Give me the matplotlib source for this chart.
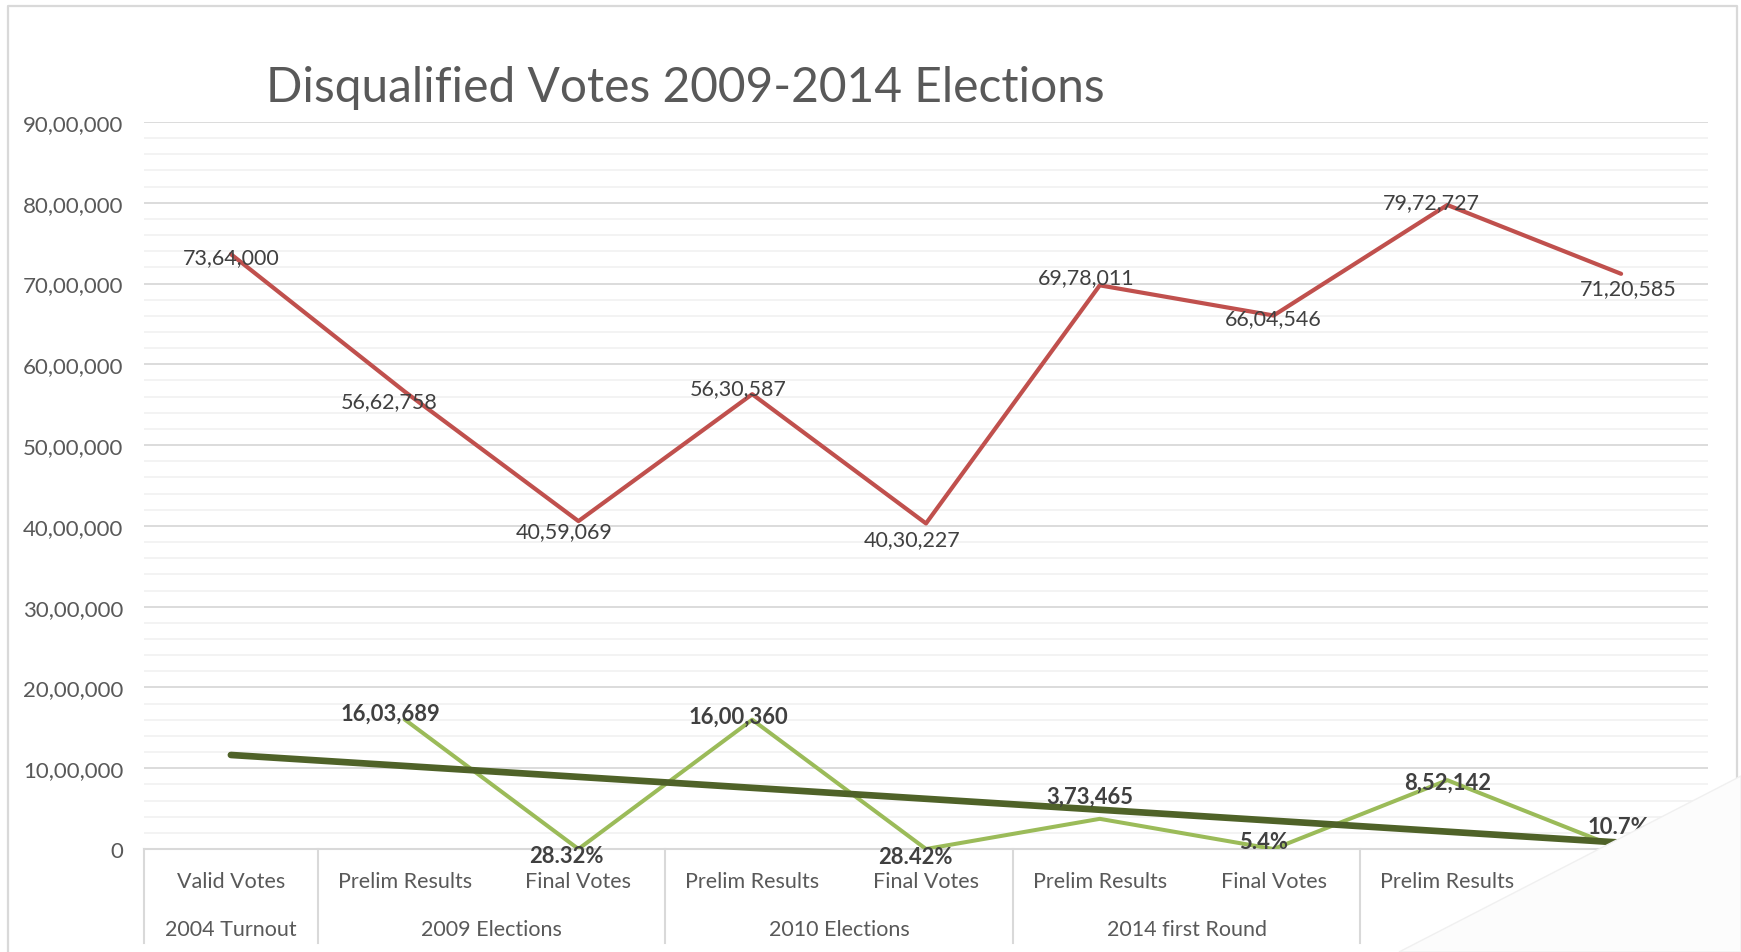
import numpy as np
import matplotlib.pyplot as plt
from matplotlib.patches import Polygon
from matplotlib.lines import Line2D
import matplotlib.transforms as mtransforms

plt.rcParams["font.family"] = ["Lato", "DejaVu Sans"]

categories = ["Valid Votes", "Prelim Results", "Final Votes", "Prelim Results", "Final Votes",
              "Prelim Results", "Final Votes", "Prelim Results", "Final Votes"]
groups = ["2004 Turnout", "2009 Elections", "2010 Elections", "2014 first Round", ""]
group_spans = [(0, 0), (1, 2), (3, 4), (5, 6), (7, 8)]

total_votes = [7364000, 5662758, 4059069, 5630587, 4030227, 6978011, 6604546, 7972727, 7120585]
disqualified = [np.nan, 1603689, 28.32, 1600360, 28.42, 373465, 5.4, 852142, 10.7]

# label nudges in pixels (dx, dy) to sit like the original
red_offsets = [(0, -3), (-16, -10), (-14, -10), (-14, 6), (-14, -16), (-14, 8), (0, -3), (-16, 3), (7, -14)]
green_offsets = [(0, 0), (-14, 6), (-12, -7), (-14, 4), (-11, -8), (-10, 23), (-10, 7), (0, -2), (-3, 22)]


def indian(n):
    s = str(int(round(n)))
    if len(s) <= 3:
        return s
    head, tail = s[:-3], s[-3:]
    parts = []
    while len(head) > 2:
        parts.insert(0, head[-2:])
        head = head[:-2]
    if head:
        parts.insert(0, head)
    return ",".join(parts) + "," + tail


def green_label(v):
    return f"{v}%" if v < 100 else indian(v)


x = np.arange(len(categories))

fig = plt.figure(figsize=(17.41, 9.53), dpi=100)
ax = fig.add_axes([144 / 1741, 1 - 850 / 953, (1708 - 144) / 1741, (850 - 123) / 953])

ax.set_ylim(0, 9000000)
ax.set_xlim(-0.5, len(categories) - 0.5)
ax.set_yticks(np.arange(0, 9000001, 1000000))
ax.set_yticks(np.arange(0, 9000001, 200000), minor=True)
ax.yaxis.set_major_formatter(plt.FuncFormatter(lambda v, p: indian(v)))
ax.tick_params(axis="y", which="both", length=0, pad=15, labelsize=16, labelcolor="#595959")
ax.set_xticks([])
ax.grid(axis="y", which="major", color="#d9d9d9", lw=1.3)
ax.grid(axis="y", which="minor", color="#f2f2f2", lw=1.3)
ax.set_axisbelow(True)
for s in ax.spines.values():
    s.set_visible(False)

ax.plot(x, total_votes, color="#c0504d", lw=3.0, solid_capstyle="round", zorder=3)
ax.plot(x, disqualified, color="#9bbb59", lw=2.9, solid_capstyle="round", zorder=3)

mask = ~np.isnan(disqualified)
coef = np.polyfit(x[mask], np.array(disqualified)[mask], 1)
ax.plot(x, np.polyval(coef, x), color="#4f6228", lw=4.8, solid_capstyle="round", zorder=4)

for i, v in enumerate(total_votes):
    ax.annotate(indian(v), (x[i], v), xytext=red_offsets[i], textcoords="offset pixels",
                ha="center", va="center", fontsize=15.5, color="#404040", zorder=5)
for i, v in enumerate(disqualified):
    if np.isnan(v):
        continue
    ax.annotate(green_label(v), (x[i], v), xytext=green_offsets[i], textcoords="offset pixels",
                ha="center", va="center", fontsize=15.8, fontweight="bold", color="#404040",
                zorder=5, annotation_clip=False)

# multi-level category axis
trans = mtransforms.blended_transform_factory(ax.transData, ax.transAxes)
px = 1 / 727
ax.add_line(Line2D([-0.5, len(categories) - 0.5], [0, 0], transform=trans, color="#d9d9d9",
                   lw=1.5, clip_on=False))
for i, lab in enumerate(categories):
    ax.text(x[i], -32 * px, lab, transform=trans, ha="center", va="center",
            fontsize=15.5, color="#595959")
for (a, b), g in zip(group_spans, groups):
    ax.text((a + b) / 2, -80 * px, g, transform=trans, ha="center", va="center",
            fontsize=15.5, color="#595959")
for edge in [-0.5] + [b + 0.5 for a, b in group_spans]:
    ax.add_line(Line2D([edge, edge], [0, -94 * px], transform=trans, color="#d9d9d9",
                       lw=1.5, clip_on=False))

fig.text(266 / 1741, 1 - 88 / 953, "Disqualified Votes 2009-2014 Elections", ha="left",
         va="center", fontsize=34.5, color="#595959")

# chart border
fig.add_artist(Line2D([8 / 1741, 8 / 1741, 1737 / 1741, 1737 / 1741], [0, 1 - 7 / 953, 1 - 7 / 953, 0],
                      transform=fig.transFigure, color="#d9d9d9", lw=1.6))

# watermark patch covering the bottom-right corner
fig.add_artist(Polygon([(1399 / 1741, 0), (1741 / 1741, 176 / 953), (1741 / 1741, 0)],
                       closed=True, transform=fig.transFigure, facecolor="#fcfcfc",
                       edgecolor="#f0f0f0", lw=1, zorder=10))

fig.savefig("out.png", dpi=100, facecolor="white")
